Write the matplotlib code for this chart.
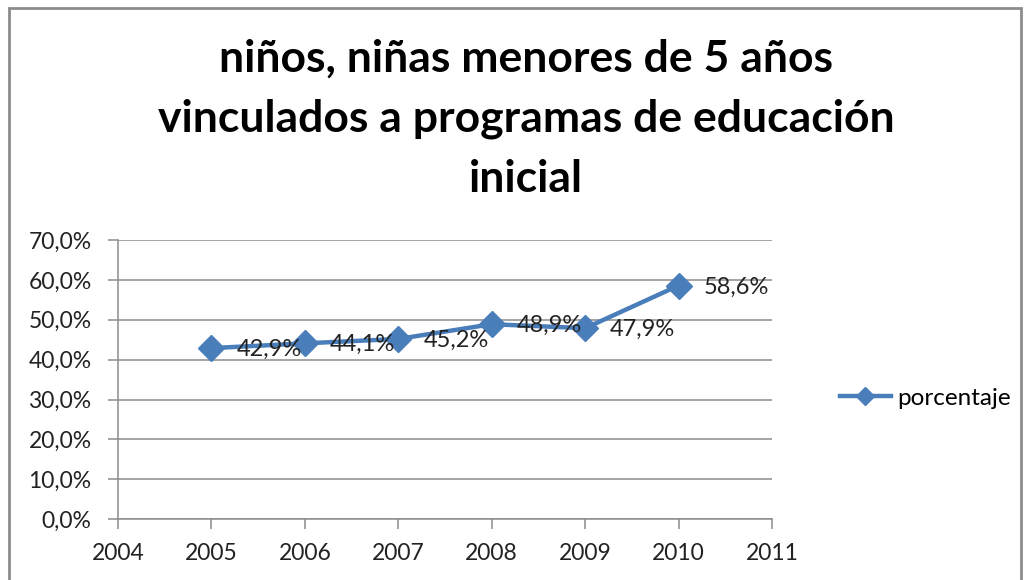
import matplotlib.pyplot as plt
from matplotlib.ticker import FuncFormatter

years = [2005, 2006, 2007, 2008, 2009, 2010]
porcentaje = [42.9, 44.1, 45.2, 48.9, 47.9, 58.6]
etiquetas = ['42,9%', '44,1%', '45,2%', '48,9%', '47,9%', '58,6%']
titulo = 'niños, niñas menores de 5 años\nvinculados a programas de educación\ninicial'

plt.rcParams['font.family'] = ['Lato', 'DejaVu Sans']
azul = '#4A7EBB'

fig = plt.figure(figsize=(10.28, 5.8), dpi=100)
ax = fig.add_axes([0.1148, 0.105, 0.6362, 0.481])

ax.plot(years, porcentaje, color=azul, lw=3.2, marker='D', ms=13,
        label='porcentaje', zorder=3)
for x, y, t in zip(years, porcentaje, etiquetas):
    ax.annotate(t, (x, y), xytext=(18, -1), textcoords='offset points',
                ha='left', va='center', fontsize=17, color='#222222', zorder=4)

ax.set_xlim(2004, 2011)
ax.set_ylim(0, 70)
ax.set_yticks(range(0, 71, 10))
ax.set_xticks(range(2004, 2012))
ax.yaxis.set_major_formatter(FuncFormatter(lambda v, p: f'{v:.1f}%'.replace('.', ',')))
ax.grid(axis='y', color='#8c8c8c', lw=1.1)
ax.set_axisbelow(True)
for s in ['top', 'right']:
    ax.spines[s].set_visible(False)
for s in ['left', 'bottom']:
    ax.spines[s].set_color('#8c8c8c')
    ax.spines[s].set_linewidth(1.1)
ax.tick_params(axis='both', colors='#8c8c8c', length=7, width=1.1,
               labelsize=16.5, labelcolor='#222222')
ax.tick_params(axis='y', pad=12)
ax.tick_params(axis='x', pad=10)

fig.text(0.512, 0.795, titulo, ha='center', va='center', fontsize=32,
         fontweight='bold', linespacing=1.6)

fig.legend(loc='center left', bbox_to_anchor=(0.817, 0.313), frameon=False,
           fontsize=17.5, handlelength=2.1, handletextpad=0.25, markerscale=0.7,
           borderpad=0, borderaxespad=0)

# borde del grafico
fig.patches.append(plt.Rectangle((0.009, -0.05), 0.9845, 1.036, transform=fig.transFigure,
                                 fill=False, edgecolor='#8c8c8c', lw=2))

fig.savefig('out.png', dpi=100)
